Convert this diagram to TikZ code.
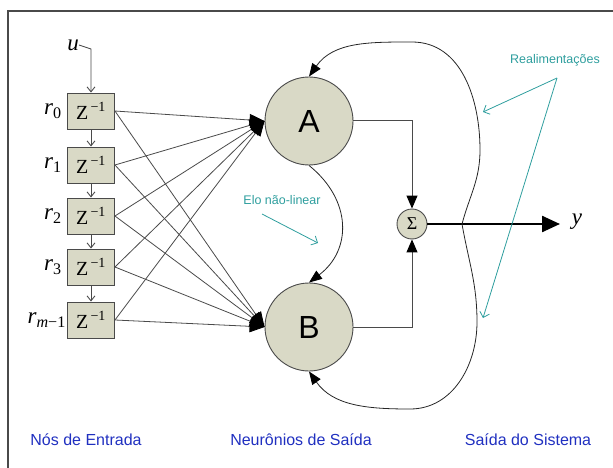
\documentclass[tikz,border=0pt]{standalone}
\usepackage{fontspec}
\newfontfamily\arial{Liberation Sans}
\newfontfamily\tmsfont{Liberation Serif}
\usetikzlibrary{arrows.meta}
\definecolor{nodefill}{HTML}{D9D9C6}
\definecolor{linegray}{HTML}{4A4A4A}
\definecolor{tealc}{HTML}{2E9E9E}
\definecolor{bluec}{HTML}{2030C0}
\newcommand{\zinv}{Z\textsuperscript{\,−1}}
\newcommand{\rlabel}[1]{\textit{r}\textsubscript{#1}}
\tikzset{
  zbox/.style={draw=linegray, fill=nodefill, line width=0.9pt, minimum width=47pt, minimum height=36pt, inner sep=0pt, font=\tmsfont\fontsize{20}{20}\selectfont},
  rlab/.style={anchor=east, inner sep=0pt, font=\tmsfont\fontsize{23}{23}\selectfont},
  neuron/.style={circle, draw=linegray, fill=nodefill, line width=0.9pt, minimum size=88pt, inner sep=0pt, font=\arial\fontsize{32}{32}\selectfont},
  sumnode/.style={circle, draw=linegray, fill=nodefill, line width=0.9pt, minimum size=30pt, inner sep=0pt, font=\tmsfont\fontsize{18}{18}\selectfont},
  chain/.style={draw=linegray, line width=0.9pt, -{Straight Barb[length=5pt,width=8pt]}},
  inline/.style={draw=linegray, line width=0.8pt, -{Triangle[length=15pt,width=12pt,color=black]}},
  fb/.style={draw=black!85, line width=0.8pt, -{Triangle[length=13pt,width=10pt,color=black]}},
  conn/.style={draw=linegray, line width=1pt, -{Triangle[length=13pt,width=11pt,color=black]}},
  outarrow/.style={draw=black, line width=2.4pt, -{Triangle[length=18pt,width=16pt]}},
  note/.style={draw=tealc, line width=0.8pt, -{Straight Barb[length=5pt,width=10pt]}},
  notetext/.style={text=tealc, font=\arial\fontsize{12.5}{12.5}\selectfont, inner sep=0pt},
  caption/.style={text=bluec, font=\arial\fontsize{16}{16}\selectfont, inner sep=0pt}
}
\begin{document}
\begin{tikzpicture}[x=1pt,y=-1pt]
\useasboundingbox (0,0) rectangle (613,468);
% frame
\draw[linegray, line width=1.2pt] (8,470) -- (8,11) -- (615,11);

% delay chain
\node[inner sep=0pt, font=\tmsfont\fontsize{23}{23}\selectfont] (u) at (73,45) {\textit{u}};
\coordinate (uc) at (91,49);
\node[zbox] (z0) at (91,111) {\zinv};
\node[zbox] (z1) at (91,165) {\zinv};
\node[zbox] (z2) at (91,216) {\zinv};
\node[zbox] (z3) at (91,267) {\zinv};
\node[zbox] (z4) at (91,320) {\zinv};
\node[rlab] (r0) at (62,111) {\rlabel{0}};
\node[rlab] (r1) at (62,165) {\rlabel{1}};
\node[rlab] (r2) at (62,216) {\rlabel{2}};
\node[rlab] (r3) at (62,267) {\rlabel{3}};
\node[rlab] (r4) at (66,320) {\rlabel{\textit{m}−1}};
\draw[chain] (u.east) -- (uc) -- (z0.north);
\draw[chain] (z0) -- (z1);
\draw[chain] (z1) -- (z2);
\draw[chain] (z2) -- (z3);
\draw[chain] (z3) -- (z4);

% neurons
\node[neuron] (A) at (309,121) {A};
\node[neuron] (B) at (309,327) {B};
\node[sumnode] (S) at (412,224) {Σ};

\foreach \i in {0,...,4}{
  \draw[inline] (z\i.east) -- (A.west);
  \draw[inline] (z\i.east) -- (B.west);
}

% to summation
\draw[conn] (A.east) -| (S.north);
\draw[conn] (B.east) -| (S.south);

% output
\node[inner sep=0pt, font=\tmsfont\fontsize{23}{23}\selectfont] (y) at (577,222) {\textit{y}};
\coordinate (J) at (462,224);
\coordinate (yend) at (560,224);
\draw[outarrow] (S.east) -- (yend);

% feedback loops
\draw[fb] (J) to[out=75,in=-90] (480,150) to[out=90,in=0] (412,42) to[out=180,in=55] (A.north);
\draw[fb] (J) to[out=-80,in=90] (477,322) to[out=-90,in=0] (410,409) to[out=180,in=-55] (B.south);

% nonlinear link
\draw[fb] (A.south) .. controls (352,200) and (352,250) .. (B.north);

% annotations
\node[notetext] (elo) at (282,200) {Elo não-linear};
\coordinate (elo1) at (262,214);
\coordinate (elo2) at (318,243);
\draw[note] (elo1) -- (elo2);
\node[notetext] (real) at (555,60) {Realimentações};
\coordinate (re0) at (557,78);
\coordinate (re1) at (483,112);
\coordinate (re2) at (483,318);
\draw[note] (re0) -- (re1);
\draw[note] (re0) -- (re2);

% captions
\node[caption] (c1) at (86,440) {Nós de Entrada};
\node[caption] (c2) at (301,440) {Neurônios de Saída};
\node[caption] (c3) at (528,440) {Saída do Sistema};
\end{tikzpicture}
\end{document}
